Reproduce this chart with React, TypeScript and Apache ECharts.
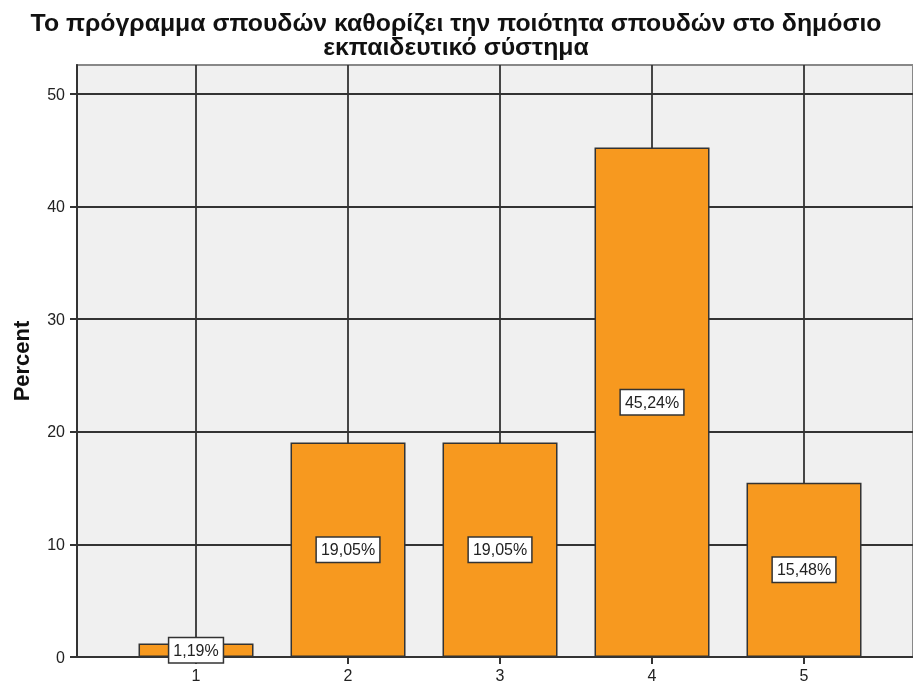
import React, { useEffect, useRef } from "react";
import * as echarts from "echarts";

const titleLines = [
  "Το πρόγραμμα σπουδών καθορίζει την ποιότητα σπουδών στο δημόσιο",
  "εκπαιδευτικό σύστημα",
];
const categories = [1, 2, 3, 4, 5];
const percents = [1.19, 19.05, 19.05, 45.24, 15.48];
const yTicks = [0, 10, 20, 30, 40, 50];
const yAxisName = "Percent";

export default function App() {
  const ref = useRef<HTMLDivElement>(null);
  useEffect(() => {
    if (!ref.current) return;
    const chart = echarts.init(ref.current, null, { renderer: "svg" });
    const font = "'Liberation Sans', Arial, sans-serif";
    chart.setOption({
      animation: false,
      textStyle: { fontFamily: font },
      graphic: titleLines.map((line, i) => ({
        type: "text",
        x: 456,
        y: 23 + i * 24,
        scaleX: 1.08,
        silent: true,
        style: {
          text: line,
          textAlign: "center",
          textVerticalAlign: "middle",
          fontFamily: font,
          fontWeight: "bold",
          fontSize: 23,
          fill: "#111",
        },
      })),
      grid: {
        left: 77,
        right: 0,
        top: 65,
        bottom: 27,
        show: true,
        backgroundColor: "#f0f0f0",
        borderColor: "#888",
        borderWidth: 2,
      },
      xAxis: {
        type: "value",
        min: 0.217,
        max: 5.717,
        axisLine: { show: true, onZero: false, lineStyle: { color: "#333", width: 2 } },
        axisTick: {
          show: true,
          customValues: categories,
          length: 7,
          lineStyle: { color: "#333", width: 2 },
        },
        axisLabel: {
          customValues: categories,
          color: "#222",
          fontSize: 16,
          margin: 10,
          formatter: (v: number) => String(v),
        },
        splitLine: {
          show: true,
          lineStyle: { color: "#333", width: 1.8 },
        },
      },
      yAxis: {
        type: "value",
        min: 0,
        max: (657 - 65) / ((657 - 94) / 50),
        interval: 10,
        name: yAxisName,
        nameLocation: "middle",
        nameGap: 45,
        nameTextStyle: { fontWeight: "bold", fontSize: 22, color: "#111" },
        axisLine: { show: true, lineStyle: { color: "#333", width: 2 } },
        axisTick: {
          show: true,
          customValues: yTicks,
          length: 7,
          lineStyle: { color: "#333", width: 2 },
        },
        axisLabel: {
          customValues: yTicks,
          color: "#222",
          fontSize: 16,
          margin: 12,
        },
        splitLine: { show: true, lineStyle: { color: "#333", width: 1.8 } },
      },
      series: [
        {
          type: "bar",
          data: categories.map((c, i) => [c, percents[i]]),
          barWidth: 115,
          itemStyle: { color: "#f7991f", borderColor: "#333", borderWidth: 1.5 },
          label: {
            show: true,
            position: "inside",
            formatter: (p: any) => p.value[1].toFixed(2).replace(".", ",") + "%",
            color: "#222",
            fontSize: 16,
            backgroundColor: "#fff",
            borderColor: "#333",
            borderWidth: 1.5,
            padding: [5, 4, 3, 4],
          },
        },
      ],
    });
    return () => chart.dispose();
  }, []);
  return <div ref={ref} style={{ width: 913, height: 684, position: "fixed", left: 0, top: 0 }} />;
}
